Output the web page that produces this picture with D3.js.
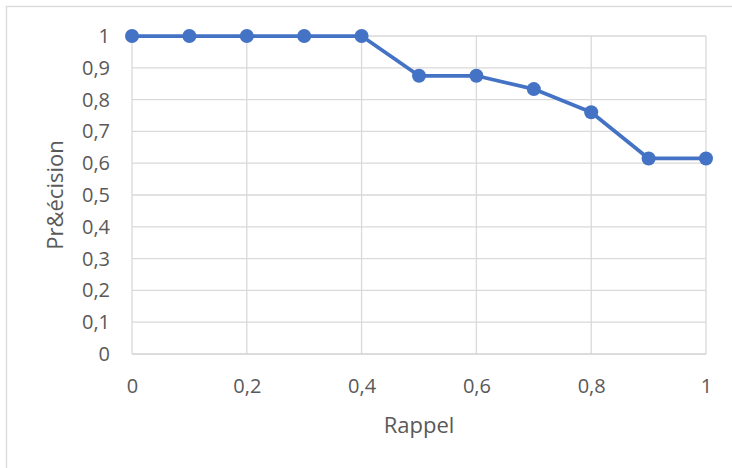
<!DOCTYPE html>
<html>
<head>
<meta charset="utf-8">
<script src="https://cdn.jsdelivr.net/npm/d3@7"></script>
<style>
  html, body { margin: 0; padding: 0; background: #fff; }
  svg { display: block; font-family: "Open Sans", Lato, sans-serif; }
</style>
</head>
<body>
<svg id="chart" width="732" height="468"></svg>
<script>
// Precision-recall curve
const recall = [0, 0.1, 0.2, 0.3, 0.4, 0.5, 0.6, 0.7, 0.8, 0.9, 1];
const precision = [1, 1, 1, 1, 1, 0.875, 0.875, 0.833, 0.76, 0.615, 0.615];
const xTicks = [0, 0.2, 0.4, 0.6, 0.8, 1];
const yTicks = [0, 0.1, 0.2, 0.3, 0.4, 0.5, 0.6, 0.7, 0.8, 0.9, 1];
const xTitle = "Rappel";
const yTitle = "Pr&écision";

const svg = d3.select("#chart");
const fmt = v => String(v).replace(".", ",");
const FONT = "'Open Sans', Lato, sans-serif";

// chart frame
svg.append("rect")
  .attr("x", 6.5).attr("y", 6.5)
  .attr("width", 740).attr("height", 480)
  .attr("fill", "#fff").attr("stroke", "#d9d9d9").attr("stroke-width", 1.3);

const x = d3.scaleLinear().domain([0, 1]).range([132, 706]);
const y = d3.scaleLinear().domain([0, 1]).range([354, 36]);

// horizontal gridlines
svg.append("g")
  .selectAll("line").data(yTicks.filter(d => d > 0)).join("line")
  .attr("x1", x(0)).attr("x2", x(1))
  .attr("y1", d => y(d)).attr("y2", d => y(d))
  .attr("stroke", "#d9d9d9").attr("stroke-width", 1.3);

// vertical gridlines
svg.append("g")
  .selectAll("line").data(xTicks).join("line")
  .attr("x1", d => x(d)).attr("x2", d => x(d))
  .attr("y1", y(0)).attr("y2", y(1))
  .attr("stroke", "#d9d9d9").attr("stroke-width", 1.3);

// x axis baseline
svg.append("line")
  .attr("x1", x(0)).attr("x2", x(1))
  .attr("y1", y(0)).attr("y2", y(0))
  .attr("stroke", "#d0d0d0").attr("stroke-width", 1.5);

// y tick labels
const yAxis = d3.axisLeft(y).tickValues(yTicks).tickFormat(fmt).tickSize(0).tickPadding(0);
svg.append("g")
  .attr("transform", `translate(110,0)`)
  .call(yAxis)
  .call(g => g.select(".domain").remove())
  .call(g => g.selectAll("text")
    .attr("fill", "#595959").attr("font-size", 20)
    .attr("font-family", FONT));

// x tick labels
const xAxis = d3.axisBottom(x).tickValues(xTicks).tickFormat(fmt).tickSize(0).tickPadding(0);
svg.append("g")
  .attr("transform", `translate(0,379)`)
  .call(xAxis)
  .call(g => g.select(".domain").remove())
  .call(g => g.selectAll("text")
    .attr("fill", "#595959").attr("font-size", 20)
    .attr("font-family", FONT));

// axis titles
svg.append("text")
  .attr("x", 419).attr("y", 433)
  .attr("text-anchor", "middle")
  .attr("fill", "#595959").attr("font-size", 22)
  .attr("font-family", FONT)
  .text(xTitle);

svg.append("text")
  .attr("transform", "translate(63,195) rotate(-90)")
  .attr("text-anchor", "middle")
  .attr("fill", "#595959").attr("font-size", 22)
  .attr("font-family", FONT)
  .text(yTitle);

// curve
const pts = recall.map((r, i) => [r, precision[i]]);
svg.append("path")
  .datum(pts)
  .attr("d", d3.line().x(d => x(d[0])).y(d => y(d[1])))
  .attr("fill", "none").attr("stroke", "#4472c4")
  .attr("stroke-width", 3.75).attr("stroke-linejoin", "round");

svg.append("g")
  .selectAll("circle").data(pts).join("circle")
  .attr("cx", d => x(d[0])).attr("cy", d => y(d[1]))
  .attr("r", 7).attr("fill", "#4472c4");
</script>
</body>
</html>
